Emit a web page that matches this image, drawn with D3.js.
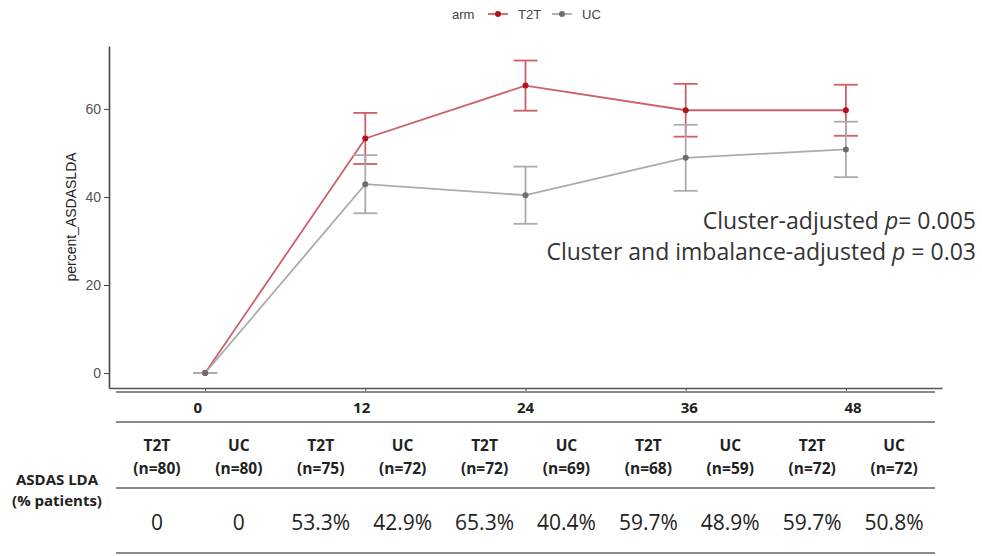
<!DOCTYPE html>
<html>
<head>
<meta charset="utf-8">
<script src="https://cdn.jsdelivr.net/npm/d3@7"></script>
<style>
  body { margin: 0; background: #fff; }
  svg { display: block; }
</style>
</head>
<body>
<svg id="chart"></svg>
<script>
// data
var weeks = [0, 12, 24, 36, 48];
var t2tPct = [0, 53.3, 65.3, 59.7, 59.7];
var t2tErr = [0, 5.8, 5.7, 6.0, 5.8];
var ucPct = [0, 42.9, 40.4, 48.9, 50.8];
var ucErr = [0, 6.6, 6.5, 7.5, 6.3];
var yTicks = [0, 20, 40, 60];

var tableArms = ["T2T", "UC", "T2T", "UC", "T2T", "UC", "T2T", "UC", "T2T", "UC"];
var tableN = [80, 80, 75, 72, 72, 69, 68, 59, 72, 72];
var tableVals = ["0", "0", "53.3%", "42.9%", "65.3%", "40.4%", "59.7%", "48.9%", "59.7%", "50.8%"];

var W = 982, H = 556;
var svg = d3.select("#chart").attr("width", W).attr("height", H);

var calibri = "'Open Sans', Lato, sans-serif";
var arial = "'Liberation Sans', Arial, sans-serif";

// scales
var x = d3.scaleLinear().domain([-7.2, 55.2]).range([109, 942]);
var y = d3.scaleLinear().domain([-3.4, 74.3]).range([388, 46]);

var series = [
  {id: "T2T", vals: t2tPct, err: t2tErr, line: "#cb6166", point: "#b3121b"},
  {id: "UC", vals: ucPct, err: ucErr, line: "#ababab", point: "#6e6e6e"}
];

//axes
var gx = svg.append("g")
  .attr("transform", "translate(0," + y.range()[0] + ")")
  .call(d3.axisBottom(x).tickValues(weeks).tickSize(4).tickSizeOuter(0).tickFormat(""));
gx.select(".domain").attr("stroke", "#555").attr("stroke-width", 1.6);
gx.selectAll(".tick line").attr("stroke", "#555");

var gy = svg.append("g")
  .attr("transform", "translate(" + x.range()[0] + ",0)")
  .call(d3.axisLeft(y).tickValues(yTicks).tickSize(5).tickSizeOuter(0).tickPadding(3));
gy.select(".domain").attr("stroke", "#444").attr("stroke-width", 1.6);
gy.selectAll(".tick line").attr("stroke", "#444");
gy.selectAll(".tick text")
  .attr("font-family", arial)
  .attr("font-size", 14)
  .attr("fill", "#555");

svg.append("text")  //y title
  .attr("transform", "translate(76," + ((y.range()[0] + y.range()[1]) / 2) + ") rotate(-90)")
  .attr("text-anchor", "middle")
  .attr("font-family", arial)
  .attr("font-size", 14)
  .attr("fill", "#222")
  .text("percent_ASDASLDA");

// lines, error bars, points
var line = d3.line()
  .x(function(d) { return x(d.w); })
  .y(function(d) { return y(d.v); });

series.forEach(function(s) {
  var pts = weeks.map(function(w, i) { return {w: w, v: s.vals[i], e: s.err[i]}; });
  var g = svg.append("g");

  var eb = g.selectAll(".eb").data(pts).enter().append("g")
    .attr("stroke", s.line).attr("stroke-width", 1.8).attr("fill", "none");
  eb.append("line")
    .attr("x1", function(d) { return x(d.w); })
    .attr("x2", function(d) { return x(d.w); })
    .attr("y1", function(d) { return y(d.v - d.e); })
    .attr("y2", function(d) { return y(d.v + d.e); });
  eb.append("line")
    .attr("x1", function(d) { return x(d.w) - 12; })
    .attr("x2", function(d) { return x(d.w) + 12; })
    .attr("y1", function(d) { return y(d.v + d.e); })
    .attr("y2", function(d) { return y(d.v + d.e); });
  eb.append("line")
    .attr("x1", function(d) { return x(d.w) - 12; })
    .attr("x2", function(d) { return x(d.w) + 12; })
    .attr("y1", function(d) { return y(d.v - d.e); })
    .attr("y2", function(d) { return y(d.v - d.e); });

  g.append("path")
    .attr("d", line(pts))
    .attr("fill", "none")
    .attr("stroke", s.line)
    .attr("stroke-width", 1.8);

  g.selectAll("circle").data(pts).enter().append("circle")
    .attr("cx", function(d) { return x(d.w); })
    .attr("cy", function(d) { return y(d.v); })
    .attr("r", 3)
    .attr("fill", s.point);
});

// legend
var legend = svg.append("g").attr("font-family", arial).attr("font-size", 13).attr("fill", "#444");
legend.append("text").attr("x", 452).attr("y", 14).attr("dy", "0.35em").text("arm");
var lx = [488, 552];
series.forEach(function(s, i) {
  var k = legend.append("g").attr("transform", "translate(" + lx[i] + ",14)");
  k.append("line").attr("x1", 0).attr("x2", 20).attr("stroke", s.line).attr("stroke-width", 1.8);
  k.append("circle").attr("cx", 10).attr("r", 3).attr("fill", s.point);
  legend.append("text").attr("x", lx[i] + 30).attr("y", 14).attr("dy", "0.35em").text(s.id);
});

// p-value annotation
var ann = svg.append("g").attr("font-family", calibri).attr("font-size", 23).attr("fill", "#333")
  .attr("text-anchor", "end");
var a1 = ann.append("text").attr("x", 976).attr("y", 229);
a1.append("tspan").text("Cluster-adjusted ");
a1.append("tspan").attr("font-style", "italic").text("p");
a1.append("tspan").text("= 0.005");
var a2 = ann.append("text").attr("x", 976).attr("y", 260);
a2.append("tspan").text("Cluster and imbalance-adjusted ");
a2.append("tspan").attr("font-style", "italic").text("p");
a2.append("tspan").text(" = 0.03");

// table under the plot
var col = d3.scaleBand().domain(d3.range(tableArms.length)).range([116, 935]);
var cx = function(i) { return col(i) + col.bandwidth() / 2; };

var tbl = svg.append("g").attr("font-family", calibri).attr("fill", "#222");

[392, 422, 488, 553].forEach(function(ly) {
  tbl.append("line")
    .attr("x1", col.range()[0]).attr("x2", col.range()[1])
    .attr("y1", ly).attr("y2", ly)
    .attr("stroke", "#8a8a8a").attr("stroke-width", 2.2);
});

tbl.selectAll(".wk").data(weeks).enter().append("text")
  .attr("x", function(d, i) { return (cx(2 * i) + cx(2 * i + 1)) / 2; })
  .attr("y", 408).attr("dy", "0.35em")
  .attr("text-anchor", "middle").attr("font-weight", "bold").attr("font-size", 15)
  .text(function(d) { return d; });

tbl.selectAll(".arm").data(tableArms).enter().append("text")
  .attr("x", function(d, i) { return cx(i); })
  .attr("y", 446).attr("dy", "0.35em")
  .attr("text-anchor", "middle").attr("font-weight", "bold").attr("font-size", 15.5)
  .text(function(d) { return d; });

tbl.selectAll(".n").data(tableN).enter().append("text")
  .attr("x", function(d, i) { return cx(i); })
  .attr("y", 469).attr("dy", "0.35em")
  .attr("text-anchor", "middle").attr("font-weight", "bold").attr("font-size", 15.5)
  .text(function(d) { return "(n=" + d + ")"; });

tbl.selectAll(".val").data(tableVals).enter().append("text")
  .attr("x", function(d, i) { return cx(i); })
  .attr("y", 523).attr("dy", "0.35em")
  .attr("text-anchor", "middle").attr("font-size", 21)
  .text(function(d) { return d; });

tbl.append("text").attr("x", 57).attr("y", 480).attr("dy", "0.35em")
  .attr("text-anchor", "middle").attr("font-weight", "bold").attr("font-size", 15)
  .text("ASDAS LDA");
tbl.append("text").attr("x", 57).attr("y", 501).attr("dy", "0.35em")
  .attr("text-anchor", "middle").attr("font-weight", "bold").attr("font-size", 15)
  .text("(% patients)");
</script>
</body>
</html>
